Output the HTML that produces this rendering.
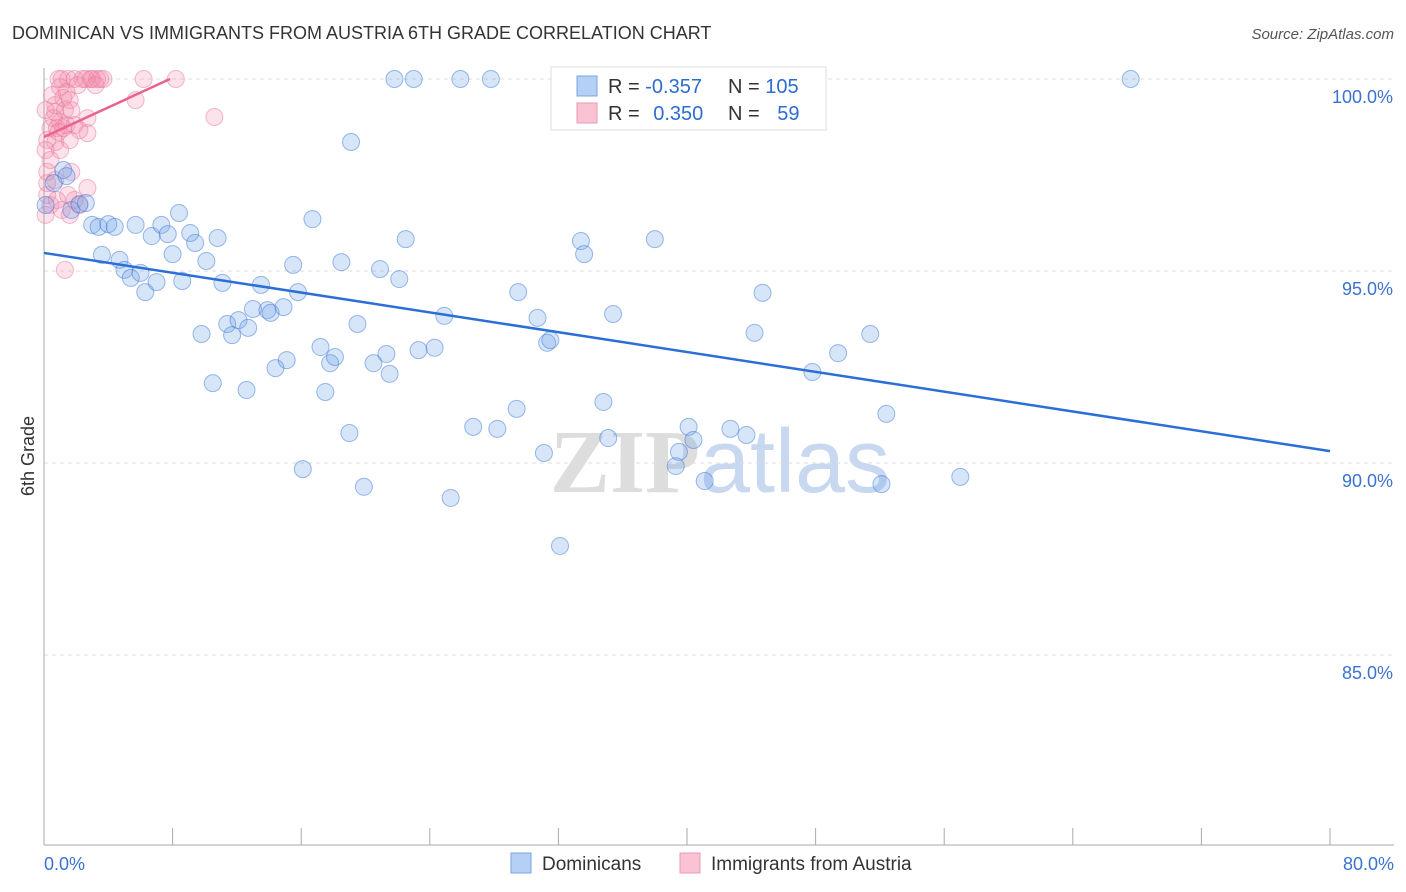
<!DOCTYPE html>
<html><head><meta charset="utf-8"><style>
body{margin:0;background:#fff;font-family:"Liberation Sans",sans-serif}
svg{display:block}
</style></head><body>
<svg id="c" width="1406" height="892">
<text x="12" y="39" font-size="18" fill="#333">DOMINICAN VS IMMIGRANTS FROM AUSTRIA 6TH GRADE CORRELATION CHART</text>
<text x="1394" y="39" font-size="15" fill="#555" font-style="italic" text-anchor="end">Source: ZipAtlas.com</text>
<text x="720" y="492" font-size="90" fill="#ddd" text-anchor="middle" font-family="Liberation Serif" font-weight="bold">ZIP<tspan fill="#c8d8f0" font-family="Liberation Sans" font-weight="normal">atlas</tspan></text>
<text transform="translate(34,456) rotate(-90)" font-size="18" fill="#333" text-anchor="middle">6th Grade</text>
<g id="grid"></g><g id="pts"></g><g id="lines"></g>
<g>
<rect x="551" y="67" width="275" height="63" fill="#fff" stroke="#ddd"/>
<rect x="577" y="76" width="20" height="20" fill="#b5cff5" stroke="#7aa5e0"/>
<rect x="577" y="103" width="20" height="20" fill="#f9c3d3" stroke="#ea9ab3"/>
<text x="608" y="93" font-size="20" fill="#333">R = <tspan fill="#2d6cd0">-0.357</tspan></text>
<text x="728" y="93" font-size="20" fill="#333">N = <tspan fill="#2d6cd0">105</tspan></text>
<text x="608" y="120" font-size="20" fill="#333">R = <tspan fill="#2d6cd0" dx="8">0.350</tspan></text>
<text x="728" y="120" font-size="20" fill="#333">N = <tspan fill="#2d6cd0" dx="12">59</tspan></text>
</g>
<g>
<rect x="511" y="853" width="20" height="20" fill="#b5cff5" stroke="#7aa5e0"/>
<text x="542" y="870" font-size="19" fill="#333">Dominicans</text>
<rect x="680" y="853" width="20" height="20" fill="#f9c3d3" stroke="#ea9ab3"/>
<text x="711" y="870" font-size="19" fill="#333">Immigrants from Austria</text>
</g>
</svg>
<script>
const yTicks=[100,95,90,85];
const yTickLabels=["100.0%","95.0%","90.0%","85.0%"];
const xTicks=[8,16,24,32,40,48,56,64,72,80];
const blueX=[1.2,0.6,1.4,1.7,2.2,2.6,3.0,3.4,4.0,4.4,3.6,4.7,5.0,5.4,6.0,6.3,7.0,5.7,6.7,7.3,7.7,8.0,8.4,8.6,9.1,9.4,10.1,10.8,11.1,9.8,10.5,11.4,11.7,12.1,12.7,12.6,13.0,13.5,13.9,14.1,14.9,14.4,15.1,15.5,15.8,16.1,16.7,17.2,17.5,17.8,18.1,18.5,19.0,19.1,19.5,19.9,20.5,20.9,21.3,21.5,21.8,22.1,22.5,23.0,23.3,24.3,24.9,25.3,25.9,26.7,27.8,28.2,29.4,29.5,30.7,31.1,31.3,31.5,32.1,32.5,33.4,33.6,34.8,35.1,35.4,38.0,39.3,39.5,40.1,40.4,41.1,42.7,43.7,44.2,44.7,47.8,49.4,51.4,52.1,52.4,57.0,67.6,0.1];
const blueY=[97.63,97.29,97.47,96.59,96.74,96.77,96.20,96.15,96.22,96.15,95.42,95.29,95.03,94.82,94.95,94.45,94.71,96.20,95.91,96.20,95.96,95.44,96.51,94.74,95.99,95.73,95.26,95.86,94.69,93.36,92.08,93.62,93.33,93.72,93.52,91.90,94.01,94.64,93.98,93.91,94.06,92.47,92.68,95.16,94.45,89.84,96.35,93.02,91.85,92.60,92.76,95.23,90.78,98.36,93.62,89.38,92.60,95.05,92.84,92.32,100,94.79,95.83,100,92.94,93.00,93.83,89.09,100,90.94,100,90.89,91.41,94.45,93.78,90.26,93.13,93.20,87.84,100,95.78,95.44,91.59,90.65,93.88,95.83,89.92,90.29,90.94,90.60,89.53,90.89,90.73,93.39,94.43,92.37,92.86,93.36,89.45,91.28,89.64,100,96.72];
const pinkX=[1.1,1.5,1.9,2.4,2.9,3.0,3.3,3.5,3.7,0.9,6.2,8.2,5.7,10.6,1.0,1.4,0.7,1.2,1.6,0.7,1.3,1.7,1.0,1.4,0.4,0.8,1.2,1.9,2.7,2.7,0.2,0.7,1.0,0.4,0.2,0.7,1.7,2.7,1.9,1.1,1.6,0.4,0.2,1.3,2.1,2.6,3.2,0.6,0.9,0.1,2.2,1.6,0.1,0.5,1.5,0.8,2.2,0.2,0.1];
const pinkY=[100,100,100,100,100,100,100,100,100,100,100,100,99.45,99.01,99.79,99.66,99.32,99.51,99.45,99.14,99.19,99.19,98.88,98.80,98.72,98.72,98.72,98.80,98.98,98.59,98.41,98.36,98.15,97.89,97.58,97.37,97.58,97.16,96.85,96.59,96.46,96.72,96.98,95.03,99.84,100,99.84,98.98,98.62,98.15,98.67,98.41,99.19,99.58,96.98,96.85,96.72,97.29,96.46];
const blueTrend=[[0,95.47],[80,90.31]];
const pinkTrend=[[0,98.49],[7.84,100]];
const NS="http://www.w3.org/2000/svg";
const sx=v=>44+v*1286/80, sy=v=>79+(100-v)*38.4;
function mk(t,a,p){const e=document.createElementNS(NS,t);for(const k in a)e.setAttribute(k,a[k]);p.appendChild(e);return e;}
const grid=document.getElementById('grid');
yTicks.forEach((t,i)=>{
 const l=mk('line',{x1:44,x2:1394,y1:sy(t),y2:sy(t),stroke:'#ddd','stroke-dasharray':'4,4'},grid);
 
 
 const tx=mk('text',{x:1393,y:sy(t)+24,'font-size':18,fill:'#3a72d0','text-anchor':'end'},grid);
 tx.textContent=yTickLabels[i];
 
 
});
mk('line',{x1:44,x2:44,y1:68,y2:845,stroke:'#aaa'},grid);
mk('line',{x1:44,x2:1394,y1:845,y2:845,stroke:'#aaa'},grid);
xTicks.forEach(t=>{
 const l=mk('line',{x1:sx(t),x2:sx(t),y1:828,y2:845,stroke:'#aaa'},grid);
 
 
});
const xl=mk('text',{x:44,y:870,'font-size':18,fill:'#3a72d0'},grid);xl.textContent='0.0%';


const xr=mk('text',{x:1394,y:870,'font-size':18,fill:'#3a72d0','text-anchor':'end'},grid);xr.textContent='80.0%';


const pts=document.getElementById('pts');
pinkX.forEach((x,i)=>{
 const c=mk('circle',{cx:sx(x),cy:sy(pinkY[i]),r:8.5,fill:'rgba(242,140,170,0.25)',stroke:'rgba(232,120,160,0.5)'},pts);
 
 
});
blueX.forEach((x,i)=>{
 const c=mk('circle',{cx:sx(x),cy:sy(blueY[i]),r:8.5,fill:'rgba(110,160,235,0.28)',stroke:'rgba(60,120,215,0.5)'},pts);
 
 
});
const lines=document.getElementById('lines');
const bl=mk('line',{x1:sx(blueTrend[0][0]),y1:sy(blueTrend[0][1]),x2:sx(blueTrend[1][0]),y2:sy(blueTrend[1][1]),stroke:'#2a6fd6','stroke-width':2.5},lines);


const pl=mk('line',{x1:sx(pinkTrend[0][0]),y1:sy(pinkTrend[0][1]),x2:sx(pinkTrend[1][0]),y2:sy(pinkTrend[1][1]),stroke:'#e8638f','stroke-width':2.5},lines);


</script>
</body></html>
